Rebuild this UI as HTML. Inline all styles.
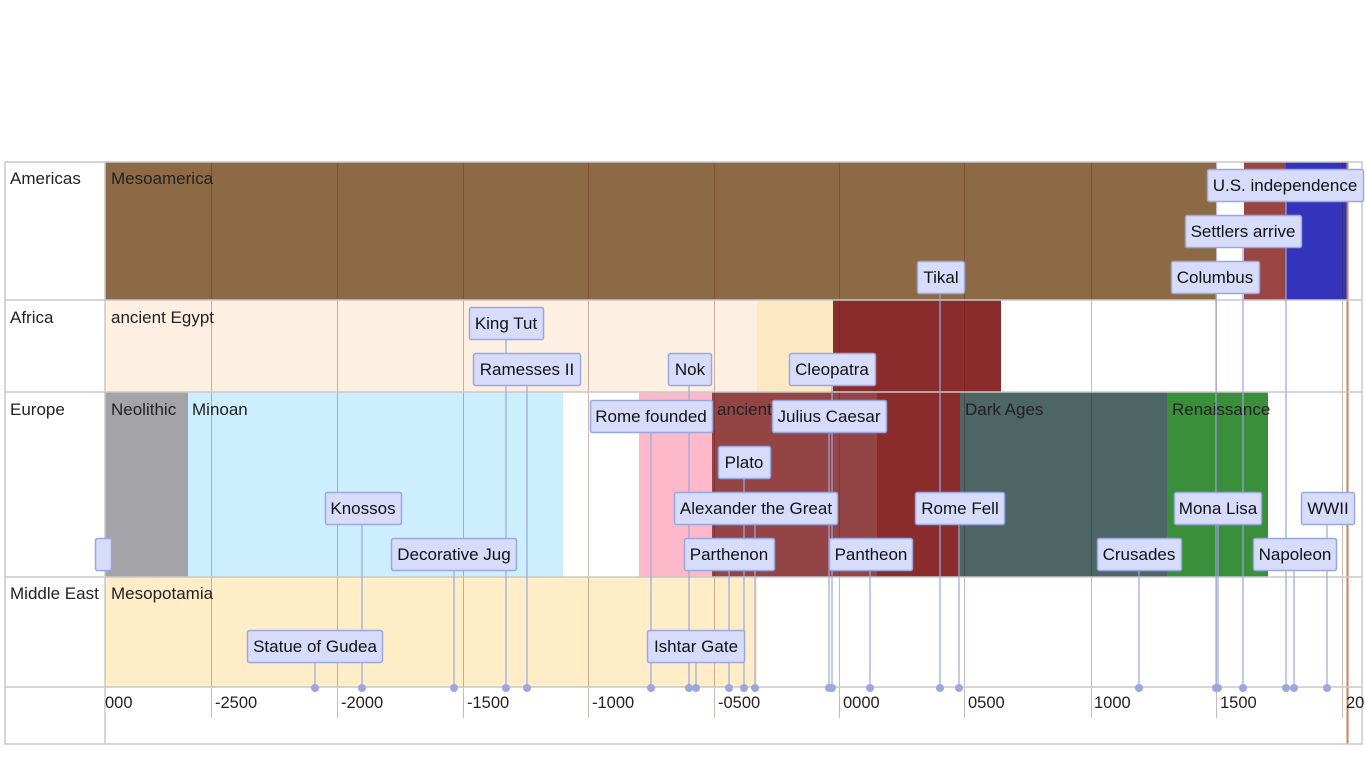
<!DOCTYPE html>
<html><head><meta charset="utf-8"><style>
html,body{margin:0;padding:0;background:#fff;width:1366px;height:768px;overflow:hidden}
svg text{font-family:"Liberation Sans",sans-serif}
</style></head><body>
<svg width="1366" height="768" xmlns="http://www.w3.org/2000/svg">
<rect x="105" y="162" width="1111" height="138" fill="#8d6a46"/>
<rect x="1244" y="162" width="42" height="138" fill="#9a4444"/>
<rect x="1286" y="162" width="62" height="138" fill="#3333bb"/>
<rect x="105" y="300" width="652" height="92" fill="#fdf0e2"/>
<rect x="757" y="300" width="76" height="92" fill="#fde8c4"/>
<rect x="833" y="300" width="168" height="92" fill="#8b2c2c"/>
<rect x="105" y="392" width="83" height="185" fill="#a4a3a8"/>
<rect x="188" y="392" width="375" height="185" fill="#cdeefe"/>
<rect x="639" y="392" width="73" height="185" fill="#fdb9c9"/>
<rect x="712" y="392" width="165" height="185" fill="#944444"/>
<rect x="877" y="392" width="83" height="185" fill="#8b2c2c"/>
<rect x="960" y="392" width="207" height="185" fill="#4d6565"/>
<rect x="1167" y="392" width="101" height="185" fill="#3a8f3a"/>
<rect x="105" y="577" width="652" height="110" fill="#feedc6"/>
<g stroke="rgba(90,20,20,0.3)" stroke-width="1">
<line x1="211.5" y1="162" x2="211.5" y2="718"/><line x1="337.5" y1="162" x2="337.5" y2="718"/>
<line x1="463.5" y1="162" x2="463.5" y2="718"/><line x1="588.5" y1="162" x2="588.5" y2="718"/>
<line x1="714.5" y1="162" x2="714.5" y2="718"/><line x1="839.5" y1="162" x2="839.5" y2="718"/>
<line x1="964.5" y1="162" x2="964.5" y2="718"/><line x1="1091.5" y1="162" x2="1091.5" y2="718"/>
<line x1="1216.5" y1="162" x2="1216.5" y2="718"/><line x1="1342.5" y1="162" x2="1342.5" y2="718"/>
</g>
<line x1="1347.5" y1="162" x2="1347.5" y2="744" stroke="#c8825e" stroke-width="2"/>
<g stroke="#c8c8c8" stroke-width="1.5" fill="none">
<rect x="5" y="162" width="1357" height="582"/>
<line x1="105" y1="162" x2="105" y2="744"/>
<line x1="5" y1="300" x2="1362" y2="300"/>
<line x1="5" y1="392" x2="1362" y2="392"/>
<line x1="5" y1="577" x2="1362" y2="577"/>
<line x1="5" y1="687" x2="1362" y2="687"/>
</g>
<g font-size="17" fill="#222">
<text x="10" y="184">Americas</text><text x="10" y="323">Africa</text>
<text x="10" y="415">Europe</text><text x="10" y="599">Middle East</text>
<text x="111" y="184">Mesoamerica</text><text x="111" y="323">ancient Egypt</text>
<text x="111" y="415">Neolithic</text><text x="192" y="415">Minoan</text>
<text x="717" y="415">ancient</text><text x="965" y="415">Dark Ages</text>
<text x="1172" y="415">Renaissance</text><text x="111" y="599">Mesopotamia</text>
</g>
<g font-size="16.5" fill="#222">
<text x="105" y="708">000</text><text x="215" y="708">-2500</text><text x="341" y="708">-2000</text>
<text x="467" y="708">-1500</text><text x="592" y="708">-1000</text><text x="718" y="708">-0500</text>
<text x="843" y="708">0000</text><text x="968" y="708">0500</text><text x="1094" y="708">1000</text>
<text x="1220" y="708">1500</text><text x="1346" y="708">20</text>
</g>
<g stroke="#9aa8e0" stroke-width="1.2">
<line x1="315" y1="662" x2="315" y2="688"/><line x1="362" y1="524" x2="362" y2="688"/>
<line x1="454" y1="570" x2="454" y2="688"/><line x1="506" y1="340" x2="506" y2="688"/>
<line x1="527" y1="386" x2="527" y2="688"/><line x1="651" y1="432" x2="651" y2="688"/>
<line x1="689" y1="386" x2="689" y2="688"/><line x1="696" y1="662" x2="696" y2="688"/>
<line x1="744" y1="478" x2="744" y2="688"/><line x1="755" y1="524" x2="755" y2="688"/>
<line x1="729" y1="570" x2="729" y2="688"/><line x1="829" y1="432" x2="829" y2="688"/>
<line x1="832" y1="386" x2="832" y2="688"/><line x1="870" y1="570" x2="870" y2="688"/>
<line x1="940" y1="294" x2="940" y2="688"/><line x1="959" y1="524" x2="959" y2="688"/>
<line x1="1139" y1="570" x2="1139" y2="688"/><line x1="1216" y1="294" x2="1216" y2="688"/>
<line x1="1243" y1="248" x2="1243" y2="688"/><line x1="1218" y1="524" x2="1218" y2="688"/>
<line x1="1286" y1="202" x2="1286" y2="688"/><line x1="1294" y1="570" x2="1294" y2="688"/>
<line x1="1327" y1="524" x2="1327" y2="688"/>
</g>
<g fill="#9aa8e0">
<circle cx="315" cy="688" r="4"/><circle cx="362" cy="688" r="4"/><circle cx="454" cy="688" r="4"/>
<circle cx="506" cy="688" r="4"/><circle cx="527" cy="688" r="4"/><circle cx="651" cy="688" r="4"/>
<circle cx="689" cy="688" r="4"/><circle cx="696" cy="688" r="4"/><circle cx="729" cy="688" r="4"/>
<circle cx="744" cy="688" r="4"/><circle cx="755" cy="688" r="4"/><circle cx="829" cy="688" r="4"/>
<circle cx="832" cy="688" r="4"/><circle cx="870" cy="688" r="4"/><circle cx="940" cy="688" r="4"/>
<circle cx="959" cy="688" r="4"/><circle cx="1139" cy="688" r="4"/><circle cx="1216" cy="688" r="4"/>
<circle cx="1218" cy="688" r="4"/><circle cx="1243" cy="688" r="4"/><circle cx="1286" cy="688" r="4"/>
<circle cx="1294" cy="688" r="4"/><circle cx="1327" cy="688" r="4"/>
</g>
<g fill="#d8dcfb" stroke="#9aa8e0" stroke-width="1.5">
<rect x="247.5" y="630.5" width="135" height="32" rx="2"/>
<rect x="325.5" y="492.5" width="76" height="32" rx="2"/>
<rect x="391.5" y="538.5" width="125" height="32" rx="2"/>
<rect x="469.5" y="307.5" width="74" height="32" rx="2"/>
<rect x="473.5" y="353.5" width="107" height="32" rx="2"/>
<rect x="590.5" y="400.5" width="122" height="32" rx="2"/>
<rect x="668.5" y="353.5" width="43" height="32" rx="2"/>
<rect x="647.5" y="630.5" width="97" height="32" rx="2"/>
<rect x="718.5" y="446.5" width="52" height="32" rx="2"/>
<rect x="674.5" y="492.5" width="163" height="32" rx="2"/>
<rect x="684.5" y="538.5" width="90" height="32" rx="2"/>
<rect x="772.5" y="400.5" width="114" height="32" rx="2"/>
<rect x="789.5" y="353.5" width="86" height="32" rx="2"/>
<rect x="829.5" y="538.5" width="83" height="32" rx="2"/>
<rect x="917.5" y="261.5" width="47" height="32" rx="2"/>
<rect x="915.5" y="492.5" width="89" height="32" rx="2"/>
<rect x="1097.5" y="538.5" width="84" height="32" rx="2"/>
<rect x="1171.5" y="261.5" width="88" height="32" rx="2"/>
<rect x="1185.5" y="215.5" width="116" height="32" rx="2"/>
<rect x="1174.5" y="492.5" width="87" height="32" rx="2"/>
<rect x="1207.5" y="169.5" width="156" height="32" rx="2"/>
<rect x="1253.5" y="538.5" width="83" height="32" rx="2"/>
<rect x="1301.5" y="492.5" width="53" height="32" rx="2"/>
<rect x="95.5" y="538.5" width="16" height="32" rx="2"/>
</g>
<g font-size="17" fill="#111" text-anchor="middle">
<text x="315" y="652">Statue of Gudea</text><text x="363" y="514">Knossos</text>
<text x="454" y="560">Decorative Jug</text><text x="506" y="329">King Tut</text>
<text x="527" y="375">Ramesses II</text><text x="651" y="422">Rome founded</text>
<text x="690" y="375">Nok</text><text x="696" y="652">Ishtar Gate</text>
<text x="744" y="468">Plato</text><text x="756" y="514">Alexander the Great</text>
<text x="729" y="560">Parthenon</text><text x="829" y="422">Julius Caesar</text>
<text x="832" y="375">Cleopatra</text><text x="871" y="560">Pantheon</text>
<text x="941" y="283">Tikal</text><text x="960" y="514">Rome Fell</text>
<text x="1139" y="560">Crusades</text><text x="1215" y="283">Columbus</text>
<text x="1243" y="237">Settlers arrive</text><text x="1218" y="514">Mona Lisa</text>
<text x="1285" y="191">U.S. independence</text><text x="1295" y="560">Napoleon</text>
<text x="1328" y="514">WWII</text>
</g>
</svg>
</body></html>
